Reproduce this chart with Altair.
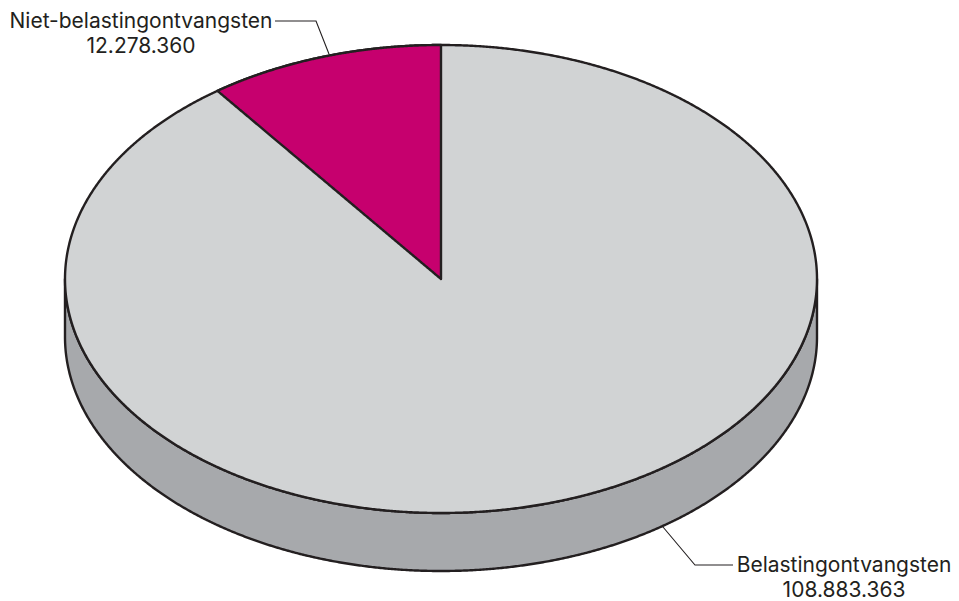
import numpy as np
import pandas as pd
import altair as alt

# Values
categories = ["Niet-belastingontvangsten", "Belastingontvangsten"]
values = [12278360, 108883363]
value_labels = ["12.278.360", "108.883.363"]

# Colours
TOP = "#d1d3d4"
SIDE = "#a7a9ac"
SLICE = "#c6006e"
INK = "#231f20"

# Chart frame: ellipse radii map to pixels through the scales
W, H = 943, 593
CX, CY, RX, RY = 433, 271, 376, 234
DEPTH = 58 / RY
FONT = "Inter"
FS = 21

x_scale = alt.Scale(domain=[-CX / RX, (W - CX) / RX], range=[0, W], nice=False, zero=False)
y_scale = alt.Scale(domain=[-(H - CY) / RY, CY / RY], range=[H, 0], nice=False, zero=False)
X = lambda f="x": alt.X(f"{f}:Q", scale=x_scale, axis=None, title=None)
Y = lambda f="y": alt.Y(f"{f}:Q", scale=y_scale, axis=None, title=None)

share = values[0] / sum(values)
a = 2 * np.pi * share

t = np.linspace(0, np.pi, 721)
ex = -np.cos(t)
ey = np.sin(t)

top_df = pd.DataFrame({"x": ex, "y": ey, "y2": -ey})
side_df = pd.DataFrame({"x": ex, "y": -ey, "y2": -ey - DEPTH})

s = np.linspace(a, 0, 241)
slice_df = pd.DataFrame({
    "x": -np.sin(s),
    "y": np.cos(s),
    "y2": np.sin(s) * np.cos(a) / np.sin(a),
})

leader1 = pd.DataFrame({"x": [-0.4415, -0.3324, -0.2979], "y": [1.1026, 1.1026, 0.9615], "o": [0, 1, 2]})
leader2 = pd.DataFrame({"x": [0.5904, 0.6755, 0.7766], "y": [-1.0598, -1.2222, -1.2222], "o": [0, 1, 2]})

labels = pd.DataFrame({
    "x": [(141 - 441) / RX, (141 - 441) / RX, (844 - 441) / RX, (844 - 441) / RX],
    "y": [(279 - 28) / RY, (279 - 53) / RY, (279 - 572) / RY, (279 - 597) / RY],
    "t": [categories[0], value_labels[0], categories[1], value_labels[1]],
})


def area(df, fill):
    return alt.Chart(df).mark_area(
        fill=fill, stroke=INK, strokeWidth=2.4, strokeJoin="round", opacity=1, interpolate="linear"
    ).encode(x=X(), y=Y(), y2=alt.Y2("y2:Q"))


def leader(df):
    return alt.Chart(df).mark_line(color=INK, strokeWidth=1.1).encode(x=X(), y=Y(), order="o:Q")


text = alt.Chart(labels).mark_text(
    font=FONT, fontSize=FS, color=INK, align="center", baseline="alphabetic"
).encode(x=X(), y=Y(), text="t:N")

chart = alt.layer(
    area(side_df, SIDE), area(top_df, TOP), area(slice_df, SLICE),
    leader(leader1), leader(leader2), text,
).properties(
    width=W, height=H, padding=0, autosize=alt.AutoSizeParams(type="none"),
).configure_view(stroke=None)

chart.save("out.html", embed_options={"renderer": "svg", "actions": False})
